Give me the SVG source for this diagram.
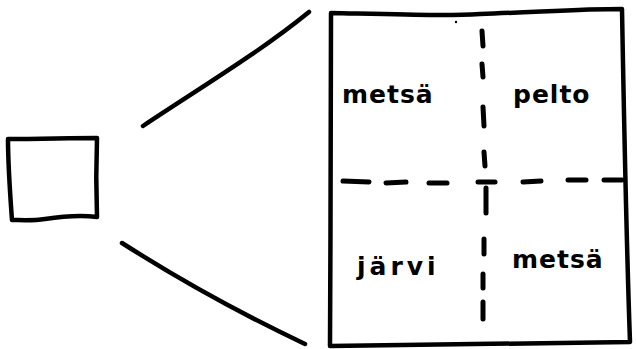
<svg xmlns="http://www.w3.org/2000/svg" width="636" height="349" viewBox="0 0 636 349">
<style>
.ink{fill:none;stroke:#000;stroke-width:4.5;stroke-linecap:round;stroke-linejoin:round}
.dash{fill:none;stroke:#000;stroke-width:5;stroke-linecap:round}
.lbl{font-family:"DejaVu Sans","Liberation Sans",sans-serif;font-weight:bold;font-size:25px;fill:#000}
</style>
<rect width="636" height="349" fill="#fff"/>
<g id="small-square">
<path class="ink" d="M8,139 C40,139 70,138 97,138 C96,165 96,190 97,217 C80,215 65,216 45,219 C32,221 20,220 12,220 C10,193 8,165 8,139 Z"/>
</g>
<g id="connectors">
<path class="ink" d="M143,126 C200,88 260,52 309,12"/>
<path class="ink" d="M122,243 C180,280 250,318 305,344"/>
</g>
<g id="map">
<path class="ink" d="M331,13 C420,15 450,16 480,14 C540,12 580,9 622,9 C624,120 626,230 630,342 C560,342 450,344 330,346 C331,235 330,120 331,13 Z"/>
<circle cx="456" cy="22" r="1.2" fill="#000"/>
<g id="v-divider">
<path class="dash" d="M482,31 L483,46"/>
<path class="dash" d="M482,64 L483,77"/>
<path class="dash" d="M483,107 L484,126"/>
<path class="dash" d="M484,152 L485,166"/>
<path class="dash" d="M486,188 L486,213"/>
<path class="dash" d="M484,239 L484,254"/>
<path class="dash" d="M483,274 L483,288"/>
<path class="dash" d="M483,302 L483,319"/>
</g>
<g id="h-divider">
<path class="dash" d="M343,181 L369,182"/>
<path class="dash" d="M386,183 L406,182"/>
<path class="dash" d="M429,183 L447,183"/>
<path class="dash" d="M478,182 L495,182"/>
<path class="dash" d="M523,182 L541,181"/>
<path class="dash" d="M568,180 L586,180"/>
<path class="dash" d="M604,180 L622,180"/>
</g>
<g id="q-metsa-top"><text class="lbl" x="342" y="103" letter-spacing="1">metsä</text></g>
<g id="q-pelto"><text class="lbl" x="513" y="103" letter-spacing="1">pelto</text></g>
<g id="q-jarvi"><text class="lbl" x="357" y="275" letter-spacing="4">järvi</text></g>
<g id="q-metsa-bottom"><text class="lbl" x="512" y="268" letter-spacing="1">metsä</text></g>
</g>
</svg>
